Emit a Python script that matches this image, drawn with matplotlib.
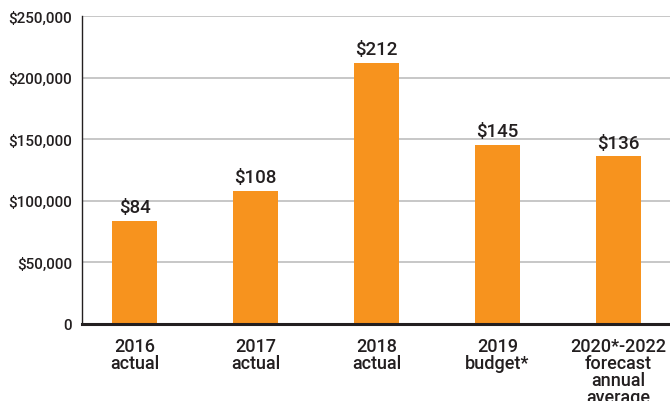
import matplotlib
matplotlib.use("Agg")
import matplotlib.pyplot as plt
from matplotlib.ticker import FuncFormatter

# data (thousands of dollars)
categories = ["2016\nactual", "2017\nactual", "2018\nactual", "2019\nbudget*",
              "2020*-2022\nforecast\nannual\naverage"]
values = [84000, 108000, 212000, 145000, 136000]
bar_labels = ["$84", "$108", "$212", "$145", "$136"]
y_ticks = [0, 50000, 100000, 150000, 200000, 250000]

orange = "#F7931E"

plt.rcParams['font.family'] = ['Roboto', 'DejaVu Sans']

fig = plt.figure(figsize=(6.7, 4.02), dpi=100)
ax = fig.add_axes([82 / 670, 1 - 325 / 402, 1 - 82 / 670, 308 / 402])

x = range(len(values))
bars = ax.bar(x, values, width=0.37, color=orange, zorder=3)

for rect, lab in zip(bars, bar_labels):
    ax.text(rect.get_x() + rect.get_width() / 2, rect.get_height() + 4000, lab,
            ha="center", va="bottom", fontsize=13.5, fontweight="medium",
            color="#231f20")

ax.set_xlim(-0.434, 4.426)
ax.set_ylim(0, 250000)
ax.set_yticks(y_ticks)
ax.yaxis.set_major_formatter(FuncFormatter(lambda v, p: "0" if v == 0 else "${:,.0f}".format(v)))
ax.set_xticks(list(x))
ax.set_xticklabels(categories, fontsize=13, fontweight="medium", linespacing=0.95,
                   color="#231f20", va="top")
ax.tick_params(axis="y", length=0, pad=7, labelsize=11, labelcolor="#231f20")
ax.tick_params(axis="x", length=0, pad=9)

ax.grid(axis="y", color="#bdbdbd", linewidth=1.2, zorder=0)
for s in ["top", "right"]:
    ax.spines[s].set_visible(False)
ax.spines["left"].set_color("#231f20")
ax.spines["left"].set_linewidth(1.0)
ax.spines["bottom"].set_color("#231f20")
ax.spines["bottom"].set_linewidth(2.2)
ax.spines["bottom"].set_zorder(4)

plt.setp(ax.get_yticklabels(), fontweight="medium")

fig.savefig("out.png", dpi=100)
